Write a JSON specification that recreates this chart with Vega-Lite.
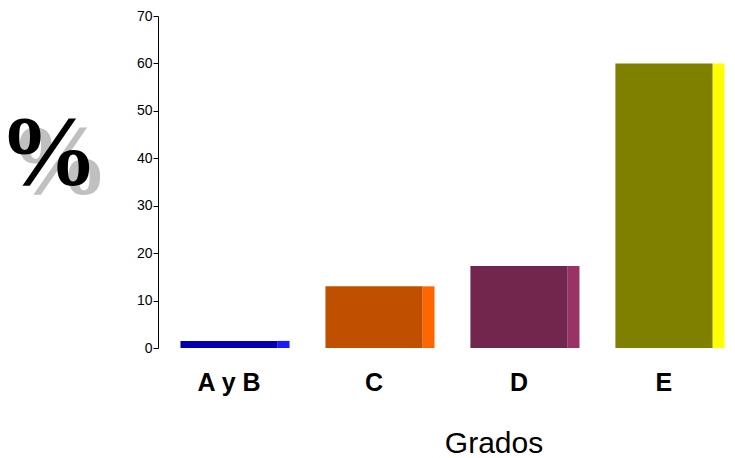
{
  "$schema": "https://vega.github.io/schema/vega-lite/v6.json",
  "width": 577,
  "height": 332,
  "autosize": "none",
  "padding": {"left": 158, "top": 16, "right": 0, "bottom": 110},
  "background": "white",
  "config": {"view": {"stroke": null}, "font": "Liberation Sans"},
  "data": {"values": [
    {"grado": "A y B", "pct": 1.5},
    {"grado": "C", "pct": 13},
    {"grado": "D", "pct": 17.3},
    {"grado": "E", "pct": 60}
  ]},
  "layer": [
    {
      "mark": {"type": "bar", "width": 12, "xOffset": 54.5},
      "encoding": {
        "x": {"field": "grado", "type": "nominal", "sort": null,
          "scale": {"paddingInner": 0.33, "paddingOuter": 0.155},
          "axis": {"title": "Grados", "labelAngle": 0, "labelFontSize": 25, "labelFontWeight": "bold", "labelColor": "black", "labelPadding": 22, "ticks": false, "tickSize": 0, "domain": false, "titleFontSize": 30, "titleFontWeight": "normal", "titleColor": "black", "titleX": 335.5, "titleY": 104, "titleBaseline": "alphabetic", "titleAlign": "center"}},
        "y": {"field": "pct", "type": "quantitative",
          "scale": {"domain": [0, 70], "nice": false},
          "axis": {"orient": "left", "labels": false, "ticks": false, "domain": false, "grid": false, "title": "%", "titleAngle": 0, "titleFontSize": 100, "titleFont": "Liberation Serif", "titleFontWeight": "bold", "titleColor": "#c0c0c0", "titleX": -99, "titleY": 146, "titleAlign": "center", "titleBaseline": "middle"}},
        "color": {"field": "grado", "type": "nominal",
          "scale": {"domain": ["A y B", "C", "D", "E"], "range": ["#1a1aff", "#ff6600", "#993366", "#ffff00"]},
          "legend": null}
      }
    },
    {
      "mark": {"type": "bar"},
      "encoding": {
        "x": {"field": "grado", "type": "nominal", "sort": null,
          "scale": {"paddingInner": 0.33, "paddingOuter": 0.155},
          "axis": {"title": "Grados", "labelAngle": 0, "labelFontSize": 25, "labelFontWeight": "bold", "labelColor": "black", "labelPadding": 22, "ticks": false, "tickSize": 0, "domain": false, "titleFontSize": 30, "titleFontWeight": "normal", "titleColor": "black", "titleX": 335.5, "titleY": 104, "titleBaseline": "alphabetic", "titleAlign": "center"}},
        "y": {"field": "pct", "type": "quantitative",
          "scale": {"domain": [0, 70], "nice": false},
          "axis": {"orient": "left", "values": [0, 10, 20, 30, 40, 50, 60, 70], "grid": false, "labelFontSize": 14, "labelColor": "black", "labelPadding": 1, "tickSize": 5, "tickColor": "black", "domainColor": "black", "title": "%", "titleAngle": 0, "titleFontSize": 100, "titleFont": "Liberation Serif", "titleFontWeight": "bold", "titleColor": "black", "titleX": -110, "titleY": 137, "titleAlign": "center", "titleBaseline": "middle"}},
        "color": {"field": "grado", "type": "nominal",
          "scale": {"domain": ["A y B", "C", "D", "E"], "range": ["#0000b0", "#c04f00", "#72254d", "#808000"]},
          "legend": null}
      }
    }
  ],
  "resolve": {"scale": {"color": "independent"}, "axis": {"y": "independent"}}
}
